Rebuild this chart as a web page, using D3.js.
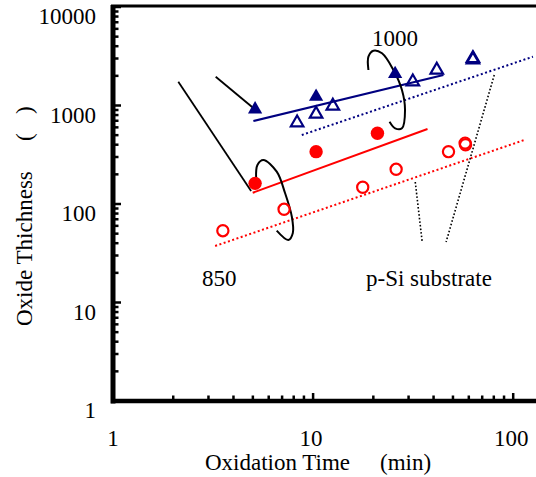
<!DOCTYPE html>
<meta charset="utf-8">
<style>
  body { margin: 0; background: #fff; }
  text { font-family: "Times New Roman", "Liberation Serif", serif; font-size: 23px; fill: #000; }
</style>
<svg width="536" height="477"></svg>
<script src="https://d3js.org/d3.v7.min.js"></script>
<script>
// oxide thickness vs oxidation time, log-log
var xLabels = [1, 10, 100];
var yLabels = [1, 10, 100, 1000, 10000];

// 1000 C, filled / open triangles  [min, thickness]
var t1000Filled = [[5.13, 915], [10.35, 1228], [25.7, 2089]];
var t1000Open = [[8.32, 669], [10.35, 820], [12.55, 988], [31.5, 1745], [41.5, 2291], [62.9, 3010], [62.9, 2920]];
// 850 C, filled / open circles
var t850Filled = [[5.13, 162], [10.35, 340], [20.97, 522]];
var t850Open = [[3.54, 53.6], [7.16, 88.3], [17.7, 148], [26.0, 225], [47.5, 340], [57.5, 415], [57.8, 400]];

// fitted lines
var fit1000Solid = [[5.03, 696], [44.8, 2042]];
var fit1000Dotted = [[8.78, 502], [125.5, 3130]];
var fit850Solid = [[4.99, 130], [37.3, 577]];
var fit850Dotted = [[3.24, 37.5], [113.5, 446]];

// annotation strokes (data coords)
var pointer850 = [[2.12, 1744], [4.90, 135.5]];
var pointer1000 = [[3.26, 1961], [5.31, 859]];
var loop850 = [[5.19, 183.6], [5.27, 248.9], [5.64, 279.7], [6.58, 212.8], [7.24, 129.3], [7.83, 74.3], [7.92, 50.8], [7.52, 43.1], [6.58, 53.6]];
var loop1000 = [[18.9, 2293], [18.9, 3129], [20.0, 3600], [22.1, 3388], [25.2, 2293], [27.8, 1437], [28.8, 900], [27.8, 587], [25.7, 587], [24.1, 684]];
var substrateLeft = [[32.4, 167.3], [35.1, 41.1]];
var substrateRight = [[80.4, 2040], [46.2, 41.1]];

var navy = '#000080', red = '#ff0000';

var svg = d3.select('svg');
var x = d3.scaleLog().domain([1, 130]).range([113, 536]);
var y = d3.scaleLog().domain([1, 10000]).range([401, 7]);
var line = d3.line().x(d => x(d[0])).y(d => y(d[1]));
var curve = d3.line().x(d => x(d[0])).y(d => y(d[1])).curve(d3.curveCatmullRom.alpha(0.5));

// frame: left, bottom, top (no right side)
var frame = svg.append('g').attr('stroke', '#000');
frame.append('line').attr('x1', x(1)).attr('x2', x(1)).attr('y1', y(10000) - 2).attr('y2', y(1) + 2.5).attr('stroke-width', 5);
frame.append('line').attr('x1', x(1) - 2).attr('x2', 536).attr('y1', y(1)).attr('y2', y(1)).attr('stroke-width', 4.5);
frame.append('line').attr('x1', x(1) - 2).attr('x2', 536).attr('y1', y(10000) - 1).attr('y2', y(10000) - 1).attr('stroke-width', 3);

// ticks (inside)
var isMajor = v => Math.abs(Math.log10(v) - Math.round(Math.log10(v))) < 1e-9;
frame.selectAll('.xt').data(x.ticks().filter(v => v > 1)).enter().append('line')
  .attr('x1', d => x(d)).attr('x2', d => x(d))
  .attr('y1', y(1)).attr('y2', d => y(1) - (isMajor(d) ? 8 : 5.5))
  .attr('stroke-width', 2.5);
frame.selectAll('.yt').data(y.ticks().filter(v => v > 1)).enter().append('line')
  .attr('x1', x(1)).attr('x2', d => x(1) + (isMajor(d) ? 8 : 5.5))
  .attr('y1', d => y(d)).attr('y2', d => y(d))
  .attr('stroke-width', 2.5);

// tick labels
svg.selectAll('.xl').data(xLabels).enter().append('text')
  .attr('x', d => x(d) - (d > 1 ? 2 : 0)).attr('y', 446)
  .attr('text-anchor', 'middle').text(d => d);
svg.selectAll('.yl').data(yLabels).enter().append('text')
  .attr('x', 96).attr('y', d => y(d) + 17)
  .attr('text-anchor', 'end').text(d => d);

// axis titles
var xt = svg.append('text').attr('x', 205).attr('y', 470);
xt.append('tspan').text('Oxidation Time');
xt.append('tspan').attr('x', 380).text('(min)');
var yt = svg.append('text').attr('transform', 'translate(32,326) rotate(-90)');
yt.append('tspan').attr('x', 0).text('Oxide Thichness');
yt.append('tspan').attr('x', 185).text('(');
yt.append('tspan').attr('x', 212).text(')');

// fit lines
svg.append('path').datum(fit1000Solid).attr('d', line).attr('stroke', navy).attr('stroke-width', 2).attr('fill', 'none');
svg.append('path').datum(fit1000Dotted).attr('d', line).attr('stroke', navy).attr('stroke-width', 2).attr('stroke-dasharray', '2,2.5').attr('fill', 'none');
svg.append('path').datum(fit850Solid).attr('d', line).attr('stroke', red).attr('stroke-width', 2).attr('fill', 'none');
svg.append('path').datum(fit850Dotted).attr('d', line).attr('stroke', red).attr('stroke-width', 2).attr('stroke-dasharray', '2,2.5').attr('fill', 'none');

// annotations
var ann = svg.append('g').attr('fill', 'none').attr('stroke', '#000');
ann.append('path').datum(pointer850).attr('d', line).attr('stroke-width', 1.8);
ann.append('path').datum(pointer1000).attr('d', line).attr('stroke-width', 1.8);
ann.append('path').datum(loop850).attr('d', curve).attr('stroke-width', 2);
ann.append('path').datum(loop1000).attr('d', curve).attr('stroke-width', 2);
ann.append('path').datum(substrateLeft).attr('d', line).attr('stroke-width', 1.6).attr('stroke-dasharray', '1.6,2');
ann.append('path').datum(substrateRight).attr('d', line).attr('stroke-width', 1.6).attr('stroke-dasharray', '1.6,2');

// markers
var tri = d3.symbol().type(d3.symbolTriangle).size(88);
svg.selectAll('.tf').data(t1000Filled).enter().append('path')
  .attr('d', tri).attr('transform', d => `translate(${x(d[0])},${y(d[1])})`)
  .attr('fill', navy);
svg.selectAll('.to').data(t1000Open).enter().append('path')
  .attr('d', d3.symbol().type(d3.symbolTriangle).size(68)).attr('transform', d => `translate(${x(d[0])},${y(d[1])})`)
  .attr('fill', 'none').attr('stroke', navy).attr('stroke-width', 2.2);
svg.selectAll('.cf').data(t850Filled).enter().append('circle')
  .attr('cx', d => x(d[0])).attr('cy', d => y(d[1])).attr('r', 6.7)
  .attr('fill', red);
svg.selectAll('.co').data(t850Open).enter().append('circle')
  .attr('cx', d => x(d[0])).attr('cy', d => y(d[1])).attr('r', 5.6)
  .attr('fill', 'none').attr('stroke', red).attr('stroke-width', 2.2);

// labels
svg.append('text').attr('x', 372).attr('y', 46).text('1000');
svg.append('text').attr('x', 202).attr('y', 286).text('850');
svg.append('text').attr('x', 366).attr('y', 286).text('p-Si substrate');
</script>
